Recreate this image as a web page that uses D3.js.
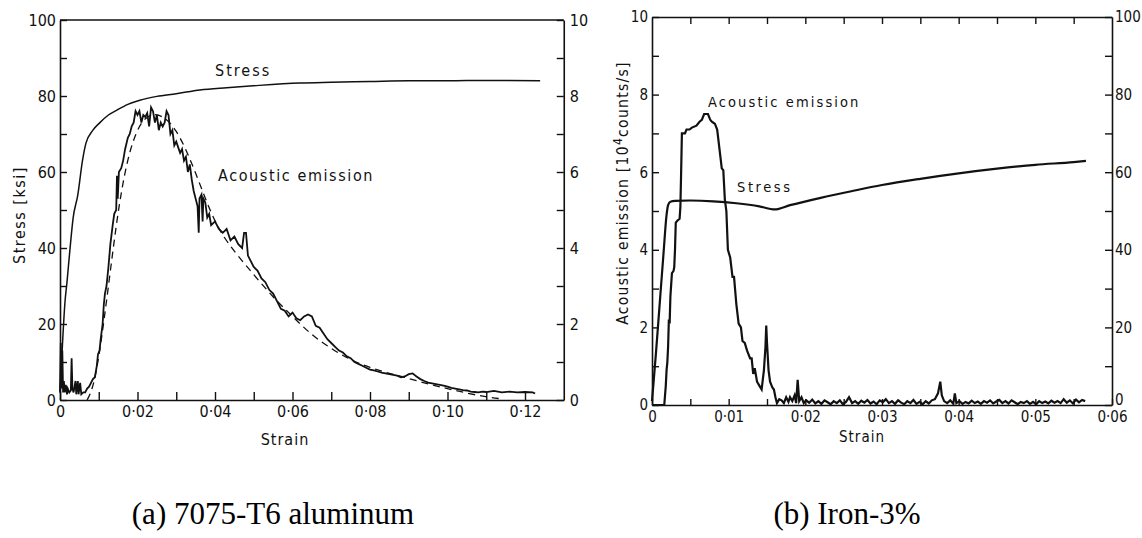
<!DOCTYPE html>
<html>
<head>
<meta charset="utf-8">
<script src="https://cdn.jsdelivr.net/npm/d3@7"></script>
<style>
body{margin:0;background:#fff;}
svg{display:block;}
.tk{font-family:"DejaVu Sans Condensed","DejaVu Sans",sans-serif;font-size:16px;fill:#111;}
.lb{font-family:"DejaVu Sans Condensed","DejaVu Sans",sans-serif;fill:#111;}
.cap{font-family:"Liberation Serif","Times New Roman",serif;font-size:31px;fill:#000;}
</style>
</head>
<body>
<svg id="fig" width="1142" height="538"></svg>
<script>
//(a) 7075-T6 aluminum : stress [ksi], acoustic emission (0-10 right axis)
var stressA = [[0,2],[0.0005,12],[0.0013,26],[0.0018,31],[0.0026,40],[0.0034,48],[0.0046,54],[0.0058,63],[0.0067,67.6],[0.0085,71],[0.0103,73],[0.0125,75],[0.0147,76.3],[0.0175,77.8],[0.0206,78.9],[0.025,79.9],[0.03,80.6],[0.0361,81.6],[0.043,82.2],[0.05,82.7],[0.0619,83.4],[0.07,83.6],[0.08,83.8],[0.09,84],[0.1,84],[0.11,84.1],[0.1239,84]];
var aeA = [[0,0.2],[0.0002,1.5],[0.0004,0.3],[0.0006,1.3],[0.0008,0.2],[0.001,0.5],[0.0012,0.2],[0.0015,0.4],[0.0018,0.15],[0.002,0.3],[0.0024,0.2],[0.0028,0.25],[0.003,1.1],[0.0032,0.3],[0.0035,0.2],[0.004,0.5],[0.0042,0.15],[0.0046,0.5],[0.0048,0.15],[0.0052,0.45],[0.0055,0.15],[0.006,0.2],[0.0065,0.2],[0.007,0.3],[0.0075,0.35],[0.008,0.45],[0.0085,0.55],[0.009,0.6],[0.0095,0.9],[0.0098,1.2],[0.0102,1.3],[0.0105,1.6],[0.011,2.0],[0.0113,2.5],[0.0116,2.8],[0.012,3.0],[0.0125,3.5],[0.013,4.1],[0.0136,4.6],[0.014,4.9],[0.0145,5.0],[0.0147,5.9],[0.0149,5.3],[0.0152,6.0],[0.0158,6.1],[0.0163,6.3],[0.0168,6.6],[0.0175,6.9],[0.018,7.0],[0.0185,7.2],[0.019,7.3],[0.0195,7.6],[0.02,7.5],[0.0205,7.6],[0.021,7.3],[0.0215,7.5],[0.022,7.45],[0.0225,7.55],[0.023,7.2],[0.0235,7.7],[0.024,7.6],[0.0245,7.3],[0.025,7.5],[0.0255,7.1],[0.026,7.3],[0.0265,7.2],[0.027,7.3],[0.0275,7.6],[0.028,7.5],[0.0285,7.0],[0.029,7.1],[0.0295,6.7],[0.03,6.8],[0.031,6.5],[0.0315,6.6],[0.032,6.3],[0.0325,6.4],[0.033,6.0],[0.0335,6.2],[0.034,5.8],[0.0345,5.5],[0.035,5.3],[0.0355,5.1],[0.0358,4.4],[0.036,5.3],[0.0365,5.4],[0.0368,4.7],[0.037,5.3],[0.0375,5.2],[0.038,4.8],[0.0385,4.9],[0.039,4.6],[0.04,4.7],[0.041,4.5],[0.042,4.4],[0.043,4.5],[0.044,4.2],[0.045,4.3],[0.046,4.1],[0.047,4.0],[0.0475,4.4],[0.048,4.4],[0.0485,3.8],[0.049,3.7],[0.05,3.5],[0.051,3.4],[0.052,3.2],[0.053,3.1],[0.054,2.9],[0.055,2.8],[0.056,2.6],[0.057,2.4],[0.058,2.35],[0.059,2.2],[0.06,2.3],[0.061,2.15],[0.062,2.1],[0.063,2.2],[0.064,2.25],[0.065,2.2],[0.066,1.95],[0.067,1.9],[0.068,1.75],[0.069,1.6],[0.07,1.5],[0.071,1.4],[0.072,1.3],[0.073,1.25],[0.074,1.15],[0.075,1.1],[0.076,1.0],[0.077,0.95],[0.078,0.9],[0.079,0.85],[0.08,0.8],[0.081,0.78],[0.082,0.75],[0.083,0.72],[0.084,0.7],[0.085,0.68],[0.086,0.66],[0.087,0.64],[0.088,0.6],[0.089,0.62],[0.09,0.68],[0.091,0.7],[0.092,0.62],[0.093,0.55],[0.094,0.5],[0.095,0.46],[0.096,0.44],[0.097,0.42],[0.098,0.4],[0.099,0.38],[0.1,0.35],[0.101,0.32],[0.102,0.3],[0.103,0.28],[0.104,0.26],[0.105,0.25],[0.106,0.22],[0.107,0.21],[0.108,0.2],[0.109,0.22],[0.11,0.21],[0.112,0.24],[0.114,0.2],[0.116,0.22],[0.118,0.2],[0.12,0.21],[0.122,0.2],[0.1226,0.17]];
var fitA = [[0.007,0],[0.0085,0.3],[0.01,1.1],[0.0115,2.2],[0.013,3.4],[0.0145,4.6],[0.016,5.6],[0.018,6.6],[0.021,7.4],[0.025,7.6],[0.03,7.2],[0.035,6.0],[0.04,4.6],[0.045,3.9],[0.05,3.3],[0.055,2.7],[0.06,2.2],[0.065,1.7],[0.07,1.35],[0.075,1.05],[0.08,0.85],[0.085,0.7],[0.09,0.57],[0.095,0.42],[0.1,0.3],[0.105,0.18],[0.11,0.08],[0.114,0.03]];

//(b) Iron-3% : acoustic emission [10^4 counts/s], stress (0-100 right axis)
var aeB = [[0,0],[0.0016,0],[0.0018,0.5],[0.0019,0.9],[0.002,1.1],[0.0021,1.5],[0.0022,2.2],[0.0023,2.1],[0.0024,2.8],[0.0026,3.4],[0.0028,3.45],[0.0029,3.55],[0.003,4.0],[0.0031,4.7],[0.0033,4.75],[0.0036,4.8],[0.0037,5.1],[0.0038,6.0],[0.0039,7.0],[0.0043,7.0],[0.0045,7.1],[0.0049,7.1],[0.0052,7.15],[0.0058,7.2],[0.0062,7.3],[0.0065,7.35],[0.0068,7.5],[0.0073,7.5],[0.0076,7.35],[0.0078,7.3],[0.0082,7.25],[0.0085,7.1],[0.0088,6.6],[0.0091,6.1],[0.0093,6.05],[0.0095,5.3],[0.0097,5.0],[0.0099,4.0],[0.0102,3.8],[0.0105,3.3],[0.0107,3.3],[0.011,2.6],[0.0113,2.1],[0.0116,2.0],[0.0118,1.65],[0.0121,1.6],[0.0124,1.4],[0.0128,1.2],[0.013,1.2],[0.0132,0.8],[0.0134,0.95],[0.0137,0.6],[0.014,0.5],[0.0143,0.4],[0.0146,0.9],[0.0148,1.5],[0.0149,2.05],[0.015,1.6],[0.0152,0.9],[0.0154,0.6],[0.0157,0.45],[0.0159,0.4],[0.0161,0.2],[0.0163,0.05],[0.0166,0.15],[0.0169,0.12],[0.0172,0.05],[0.0175,0.2],[0.0178,0.08],[0.018,0.2],[0.0183,0.1],[0.0186,0.25],[0.0188,0.05],[0.019,0.65],[0.0192,0.1],[0.0195,0.2],[0.0198,0.05],
[0.0201,0.12],[0.0205,0.06],[0.0209,0.14],[0.0213,0.04],[0.0217,0.1],[0.0221,0.03],[0.0225,0.12],[0.0229,0.07],[0.0233,0.02],[0.0237,0.1],[0.0241,0.05],[0.0245,0.12],[0.0249,0.02],[0.0253,0.08],[0.0257,0.2],[0.0261,0.05],[0.0265,0.1],[0.0269,0.03],[0.0273,0.11],[0.0277,0.06],[0.0281,0.13],[0.0285,0.04],[0.0289,0.09],[0.0293,0.02],[0.0297,0.12],[0.0301,0.07],[0.0305,0.15],[0.0309,0.05],[0.0313,0.1],[0.0317,0.03],[0.0321,0.12],[0.0325,0.06],[0.0329,0.02],[0.0333,0.1],[0.0337,0.05],[0.0341,0.13],[0.0345,0.03],[0.0349,0.08],[0.0353,0.02],[0.0357,0.1],[0.0361,0.04],[0.0365,0.12],[0.0369,0.15],[0.0373,0.3],[0.0376,0.6],[0.0378,0.25],[0.0381,0.1],[0.0385,0.05],[0.0389,0.12],[0.0393,0.03],[0.0395,0.3],[0.0397,0.05],[0.0401,0.1],[0.0405,0.03],[0.0409,0.08],[0.0413,0.04],[0.0417,0.11],[0.0421,0.05],[0.0425,0.09],[0.0429,0.03],[0.0433,0.1],[0.0437,0.06],[0.0441,0.12],[0.0445,0.04],[0.0449,0.09],[0.0453,0.13],[0.0457,0.05],[0.0461,0.1],[0.0465,0.04],[0.0469,0.12],[0.0473,0.07],[0.0477,0.02],[0.0481,0.08],[0.0485,0.05],[0.0489,0.1],[0.0493,0.03],[0.0497,0.08],[0.0501,0.02],[0.0505,0.1],[0.0509,0.05],[0.0513,0.09],[0.0517,0.04],[0.0521,0.11],[0.0525,0.06],[0.0529,0.1],[0.0533,0.05],[0.0537,0.15],[0.0541,0.06],[0.0545,0.12],[0.0549,0.04],[0.0553,0.14],[0.0557,0.07],[0.0561,0.13],[0.0565,0.1]];
var stressB = [[0,1],[0.0005,13],[0.001,26],[0.0015,39],[0.0019,49],[0.0021,51.5],[0.0024,52.4],[0.003,52.6],[0.005,52.7],[0.008,52.5],[0.011,52],[0.014,51.2],[0.016,50.4],[0.018,51.5],[0.022,53.4],[0.026,55.1],[0.03,56.7],[0.035,58.3],[0.04,59.7],[0.045,60.9],[0.05,61.9],[0.055,62.6],[0.0566,62.9]];

//tick labels
var xTicksA = [0,0.02,0.04,0.06,0.08,0.10,0.12];
var xLabelsA = ["0","0·02","0·04","0·06","0·08","0·10","0·12"];
var xTicksB = [0,0.01,0.02,0.03,0.04,0.05,0.06];
var xLabelsB = ["0","0·01","0·02","0·03","0·04","0·05","0·06"];

var svg = d3.select("#fig");

//panel (a) scales
var xA = d3.scaleLinear().domain([0,0.13]).range([60,563.75]);
var yA = d3.scaleLinear().domain([0,100]).range([400,20]);
var yA2 = d3.scaleLinear().domain([0,10]).range([400,20]);

//panel (b) scales
var xB = d3.scaleLinear().domain([0,0.06]).range([652,1112]);
var yB = d3.scaleLinear().domain([0,10]).range([405,17]);
var yB2 = d3.scaleLinear().domain([0,100]).range([405,17]);

function styleAxis(g){
	g.selectAll("path").attr("stroke","#111").attr("stroke-width",1.6);
	g.selectAll("line").attr("stroke","#111").attr("stroke-width",1.4);
	g.selectAll("text").attr("class","tk").attr("fill",null);
}

function labelFor(ticks, labels){
	return function(d){
		for(var i=0;i<ticks.length;i++){
			if(Math.abs(ticks[i]-d)<1e-9) return labels[i];
		}
		return "";
	};
}

// ---------- panel (a) ----------
var gA = svg.append("g");

gA.append("g")
	.attr("transform","translate(0,"+yA(0)+")")
	.call(d3.axisBottom(xA).tickValues(d3.range(0,0.1251,0.01)).tickSize(-8).tickSizeOuter(0).tickPadding(6)
		.tickFormat(labelFor(xTicksA,xLabelsA)))
	.call(styleAxis);

gA.append("g")
	.attr("transform","translate("+xA(0)+",0)")
	.call(d3.axisLeft(yA).tickValues(d3.range(0,101,10)).tickSize(-7).tickSizeOuter(0).tickPadding(4)
		.tickFormat(function(d){ return d%20==0 ? d : ""; }))
	.call(styleAxis);

gA.append("g")
	.attr("transform","translate("+xA(0.13)+",0)")
	.call(d3.axisRight(yA2).tickValues(d3.range(0,11,1)).tickSize(-7).tickSizeOuter(0).tickPadding(6)
		.tickFormat(function(d){ return d%2==0 ? d : ""; }))
	.call(styleAxis);

gA.append("line")
	.attr("x1",xA(0)).attr("x2",xA(0.13))
	.attr("y1",yA(100)).attr("y2",yA(100))
	.attr("stroke","#111").attr("stroke-width",1.6);

var lineA = d3.line().x(function(d){ return xA(d[0]); }).y(function(d){ return yA(d[1]); }).curve(d3.curveMonotoneX);
var lineA2 = d3.line().x(function(d){ return xA(d[0]); }).y(function(d){ return yA2(d[1]); });

gA.append("path").datum(stressA).attr("d",lineA)
	.attr("fill","none").attr("stroke","#111").attr("stroke-width",1.5);
gA.append("path").datum(fitA).attr("d",lineA2.curve(d3.curveBasis))
	.attr("fill","none").attr("stroke","#111").attr("stroke-width",1.3).attr("stroke-dasharray","7,5");
gA.append("path").datum(aeA).attr("d",d3.line().x(function(d){ return xA(d[0]); }).y(function(d){ return yA2(d[1]); }))
	.attr("fill","none").attr("stroke","#111").attr("stroke-width",1.8);

gA.append("text").attr("class","lb").attr("x",215).attr("y",76)
	.style("font-size","16px").style("letter-spacing","2px").text("Stress");
gA.append("text").attr("class","lb").attr("x",218).attr("y",181)
	.style("font-size","16px").style("letter-spacing","1.6px").text("Acoustic emission");
gA.append("text").attr("class","lb")
	.attr("transform","translate(25,215) rotate(-90)")
	.attr("text-anchor","middle")
	.style("font-size","16px").style("letter-spacing","1.5px").text("Stress [ksi]");
gA.append("text").attr("class","lb").attr("x",285).attr("y",445)
	.attr("text-anchor","middle")
	.style("font-size","16px").style("letter-spacing","1px").text("Strain");

// ---------- panel (b) ----------
var gB = svg.append("g");

gB.append("g")
	.attr("transform","translate(0,"+yB(0)+")")
	.call(d3.axisBottom(xB).tickValues(d3.range(0,0.0601,0.005)).tickSize(-6).tickSizeOuter(0).tickPadding(6)
		.tickFormat(labelFor(xTicksB,xLabelsB)))
	.call(styleAxis);

gB.append("g")
	.attr("transform","translate(0,"+yB(10)+")")
	.call(d3.axisTop(xB).tickValues(d3.range(0.005,0.0551,0.005)).tickSize(-7).tickSizeOuter(0)
		.tickFormat(""))
	.call(styleAxis);

gB.append("g")
	.attr("transform","translate("+xB(0)+",0)")
	.call(d3.axisLeft(yB).tickValues(d3.range(0,11,1)).tickSize(-7).tickSizeOuter(0).tickPadding(4)
		.tickFormat(function(d){ return d%2==0 ? d : ""; }))
	.call(styleAxis);

var rAxB = gB.append("g")
	.attr("transform","translate("+xB(0.06)+",0)")
	.call(d3.axisRight(yB2).tickValues(d3.range(0,101,10)).tickSize(-7).tickSizeOuter(0).tickPadding(3)
		.tickFormat(function(d){ return d%20==0 ? d : ""; }))
	.call(styleAxis);
//lift the bottom "0" a little, it sits on the 0·06 label otherwise
rAxB.selectAll(".tick text").filter(function(d){ return d==0; }).attr("dy","-0.05em");

gB.selectAll(".tk").style("font-size","15px");

var lineB = d3.line().x(function(d){ return xB(d[0]); }).y(function(d){ return yB(d[1]); });
var lineB2 = d3.line().x(function(d){ return xB(d[0]); }).y(function(d){ return yB2(d[1]); }).curve(d3.curveMonotoneX);

gB.append("path").datum(stressB).attr("d",lineB2)
	.attr("fill","none").attr("stroke","#111").attr("stroke-width",2.2);
gB.append("path").datum(aeB).attr("d",lineB)
	.attr("fill","none").attr("stroke","#111").attr("stroke-width",2.2);

gB.append("text").attr("class","lb").attr("x",708).attr("y",107)
	.style("font-size","14.5px").style("letter-spacing","2.1px").text("Acoustic emission");
gB.append("text").attr("class","lb").attr("x",737).attr("y",192)
	.style("font-size","14.5px").style("letter-spacing","2.6px").text("Stress");
var tB = gB.append("text").attr("class","lb")
	.attr("transform","translate(628,193) rotate(-90)")
	.attr("text-anchor","middle")
	.style("font-size","15.5px").style("letter-spacing","1.3px");
tB.append("tspan").text("Acoustic emission [10");
tB.append("tspan").attr("dy",-6).style("font-size","12px").text("4");
tB.append("tspan").attr("dy",6).text("counts/s]");
gB.append("text").attr("class","lb").attr("x",862).attr("y",442)
	.attr("text-anchor","middle")
	.style("font-size","15px").style("letter-spacing","1px").text("Strain");

// captions
svg.append("text").attr("class","cap").attr("x",273).attr("y",524).attr("text-anchor","middle").text("(a) 7075-T6 aluminum");
svg.append("text").attr("class","cap").attr("x",847).attr("y",524).attr("text-anchor","middle").text("(b) Iron-3%");
</script>
</body>
</html>
